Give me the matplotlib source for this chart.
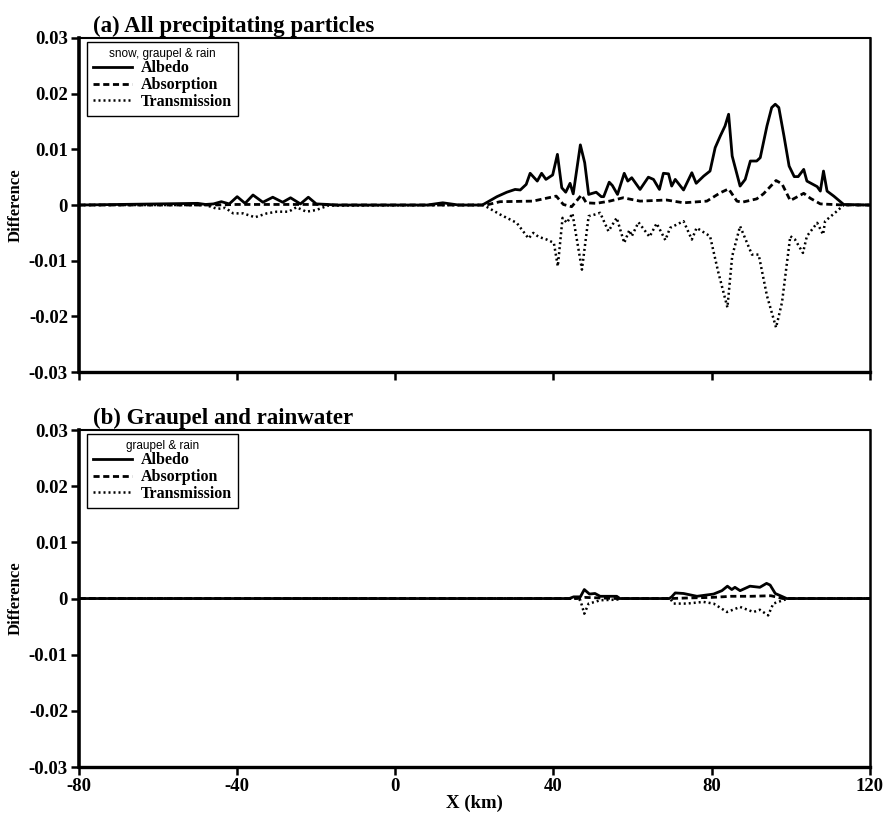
import matplotlib
matplotlib.use("Agg")
import matplotlib.pyplot as plt
from matplotlib.ticker import FuncFormatter

plt.rcParams["axes.unicode_minus"] = False

# ---- panel (a): snow, graupel & rain ----
a_alb_x = [-80, -50, -48, -46, -44, -42, -40, -38, -36, -33.5, -31, -28.5, -26.5, -24, -22, -20,
           -17, -15, 8, 12, 16, 22, 25.7, 28.2, 30.3, 31.6, 33.1, 34.1, 35.9, 37.0, 38.1, 39.8,
           41.0, 42.1, 43.1, 44.2, 45.0, 46.8, 47.9, 48.9, 50.8, 52.1, 52.7, 54.1, 54.9, 56.2,
           57.9, 58.8, 59.8, 61.9, 64.0, 65.3, 66.8, 67.8, 69.1, 69.9, 70.8, 72.9, 75.0, 76.1,
           78.0, 79.6, 80.9, 82.2, 83.4, 84.3, 85.2, 87.2, 88.5, 89.8, 91.4, 92.3, 94.0, 95.2,
           96.1, 97.0, 98.3, 99.6, 100.9, 101.9, 103.3, 104.1, 106.7, 107.5, 108.3, 109.2,
           110.9, 113.4, 120]
a_alb_y = [0, 0.0003, 0.0001, 0.0002, 0.0006, 0.0002, 0.0015, 0.0003, 0.0018, 0.0005, 0.0014,
           0.0005, 0.0013, 0.0002, 0.0014, 0.0002, 0.0001, 0, 0, 0.0004, 0, 0, 0.0015, 0.0023,
           0.0028, 0.0027, 0.0037, 0.0057, 0.0043, 0.0057, 0.0046, 0.0054, 0.0091, 0.0031,
           0.0023, 0.0039, 0.0020, 0.0108, 0.0076, 0.0019, 0.0023, 0.0015, 0.0015, 0.0041,
           0.0035, 0.0019, 0.0057, 0.0043, 0.0049, 0.0028, 0.0050, 0.0046, 0.0028, 0.0057,
           0.0056, 0.0034, 0.0046, 0.0027, 0.0058, 0.0039, 0.0052, 0.0061, 0.0103, 0.0124,
           0.0142, 0.0163, 0.0088, 0.0034, 0.0046, 0.0079, 0.0079, 0.0085, 0.0142, 0.0175,
           0.0181, 0.0175, 0.0124, 0.0070, 0.0051, 0.0051, 0.0064, 0.0043, 0.0033, 0.0025,
           0.0061, 0.0025, 0.0016, 0.0001, 0]

a_abs_x = [-80, -46, -40, -30, -20, -15, 23, 26.5, 34.8, 40.7, 42.5, 44.6, 47.1, 48.3, 50.8,
           54.2, 57.6, 61.9, 68.6, 72.9, 78.8, 82.2, 84.3, 86.4, 87.7, 91.4, 93.1, 96.3, 97.8,
           99.9, 103.3, 105.0, 107.5, 113.4, 120]
a_abs_y = [0, 0, 0.0001, 0.0001, 0.0001, 0, 0, 0.0006, 0.0007, 0.0016, 0.0001, -0.0003, 0.0018,
           0.0004, 0.0003, 0.0007, 0.0013, 0.0007, 0.0009, 0.0004, 0.0007, 0.0022, 0.0029,
           0.0007, 0.0005, 0.0011, 0.0020, 0.0044, 0.0038, 0.0008, 0.0021, 0.0012, 0.0002, 0, 0]

a_tra_x = [-80, -48, -45, -43, -41, -38.5, -35.5, -32.5, -30, -27, -25, -22.5, -20, -17, 22.3,
           26.5, 30.7, 33.7, 34.9, 36.2, 38.3, 40.1, 41.1, 42.3, 43.4, 44.8, 47.2, 48.9, 50.5,
           51.8, 53.9, 56.0, 57.9, 59.2, 59.8, 61.5, 64.3, 66.1, 68.3, 69.5, 72.9, 75.0, 76.2,
           79.6, 81.7, 84.0, 85.2, 87.2, 90.2, 91.9, 94.0, 96.3, 97.8, 99.9, 101.1, 103.1,
           104.1, 106.7, 108.2, 108.7, 111.7, 113.4, 120]
a_tra_y = [0, 0, -0.0007, -0.0005, -0.0015, -0.0015, -0.0022, -0.0015, -0.0012, -0.0012,
           -0.0004, -0.0012, -0.0009, -0.0001, 0, -0.0017, -0.0032, -0.0060, -0.0050, -0.0057,
           -0.0062, -0.0068, -0.0110, -0.0023, -0.0032, -0.0015, -0.0116, -0.0020, -0.0017,
           -0.0014, -0.0047, -0.0023, -0.0068, -0.0045, -0.0056, -0.0031, -0.0057, -0.0033,
           -0.0063, -0.0041, -0.0029, -0.0062, -0.0041, -0.0056, -0.0121, -0.0184, -0.0092,
           -0.0038, -0.0089, -0.0089, -0.0163, -0.0220, -0.0175, -0.0056, -0.0062, -0.0086,
           -0.0056, -0.0032, -0.0053, -0.0029, -0.0011, 0, 0]

# ---- panel (b): graupel & rain ----
b_alb_x = [-80, 44.0, 45.1, 46.8, 47.8, 49.1, 50.5, 51.8, 56.0, 56.8, 69.3, 69.9, 70.8, 72.9,
           76.3, 80.5, 82.6, 84.0, 85.1, 85.9, 87.2, 89.7, 92.2, 93.9, 94.8, 96.1, 99.0, 120]
b_alb_y = [0, 0, 0.0003, 0.0003, 0.0016, 0.0008, 0.0009, 0.0004, 0.0004, 0, 0, 0.0003, 0.0010,
           0.0009, 0.0004, 0.0008, 0.0014, 0.0022, 0.0016, 0.0020, 0.0014, 0.0022, 0.0020,
           0.0027, 0.0024, 0.0009, 0, 0]

b_abs_x = [-80, 46, 48, 52, 56, 69.5, 74, 80, 85, 90, 95, 98, 120]
b_abs_y = [0, 0, 0.0002, 0.0001, 0, 0, 0.0001, 0.0002, 0.0004, 0.0004, 0.0005, 0, 0]

b_tra_x = [-80, 45.5, 46.8, 47.8, 48.9, 50.5, 51.8, 56.0, 57, 69.5, 70.4, 73.7, 77.9, 80.5,
           83.9, 87.2, 90.6, 92.2, 94.3, 95.6, 98.1, 99.4, 120]
b_tra_y = [0, 0, -0.0003, -0.0027, -0.0009, -0.0006, -0.0003, -0.0002, 0, 0, -0.0009, -0.0009,
           -0.0006, -0.0009, -0.0024, -0.0015, -0.0024, -0.0020, -0.0030, -0.0009, -0.0003, 0, 0]

titles = ["(a) All precipitating particles", "(b) Graupel and rainwater"]
legend_titles = ["snow, graupel & rain", "graupel & rain"]
labels = ["Albedo", "Absorption", "Transmission"]

serif = "Liberation Serif"
sans = "Liberation Sans"

fig = plt.figure(figsize=(8.83, 8.16), dpi=100)
ax_a = fig.add_axes([0.0895, 0.544, 0.8955, 0.4095])
ax_b = fig.add_axes([0.0895, 0.060, 0.8955, 0.4130])

panels = [
    (ax_a, a_alb_x, a_alb_y, a_abs_x, a_abs_y, a_tra_x, a_tra_y),
    (ax_b, b_alb_x, b_alb_y, b_abs_x, b_abs_y, b_tra_x, b_tra_y),
]

fmt = FuncFormatter(lambda v, p: "0" if abs(v) < 1e-9 else f"{v:.2f}")

for i, (ax, ax1, ay1, ax2, ay2, ax3, ay3) in enumerate(panels):
    ax.plot(ax1, ay1, color="black", lw=2.0, ls="-", label=labels[0])
    ax.plot(ax2, ay2, color="black", lw=2.0, ls=(0, (2.2, 1.3)), label=labels[1])
    ax.plot(ax3, ay3, color="black", lw=1.8, ls=(0, (0.8, 1.2)), label=labels[2])

    ax.set_xlim(-80, 120)
    ax.set_ylim(-0.03, 0.03)
    ax.set_xticks([-80, -40, 0, 40, 80, 120])
    ax.set_yticks([-0.03, -0.02, -0.01, 0, 0.01, 0.02, 0.03])
    ax.yaxis.set_major_formatter(fmt)
    ax.tick_params(axis="both", direction="out", length=6, width=1.8, labelsize=13.5, pad=2)
    for lab in ax.get_yticklabels() + ax.get_xticklabels():
        lab.set_fontfamily(serif)
        lab.set_fontweight("bold")
    ax.spines["left"].set_linewidth(2.6)
    ax.spines["bottom"].set_linewidth(2.4)
    ax.spines["top"].set_linewidth(1.5)
    ax.spines["right"].set_linewidth(1.8)

    ax.set_ylabel("Difference", fontfamily=serif, fontweight="bold", fontsize=12, labelpad=4)
    ax.set_title(titles[i], loc="left", fontfamily=serif, fontweight="bold", fontsize=16.5,
                 x=0.018, pad=4)

    leg = ax.legend(loc="upper left", bbox_to_anchor=(0.01, 0.988), borderaxespad=0,
                    frameon=True, fancybox=False, edgecolor="black", framealpha=1,
                    handlelength=2.5, handletextpad=0.55, labelspacing=0.05, borderpad=0.35,
                    prop={"family": serif, "weight": "bold", "size": 11.5},
                    title=legend_titles[i], title_fontproperties={"family": sans, "size": 8.5})
    leg.get_frame().set_linewidth(1.0)

ax_a.tick_params(axis="x", labelbottom=False)
ax_b.set_xlabel("X (km)", fontfamily=serif, fontweight="bold", fontsize=13.5, labelpad=0)

fig.savefig("out.png", dpi=100)
